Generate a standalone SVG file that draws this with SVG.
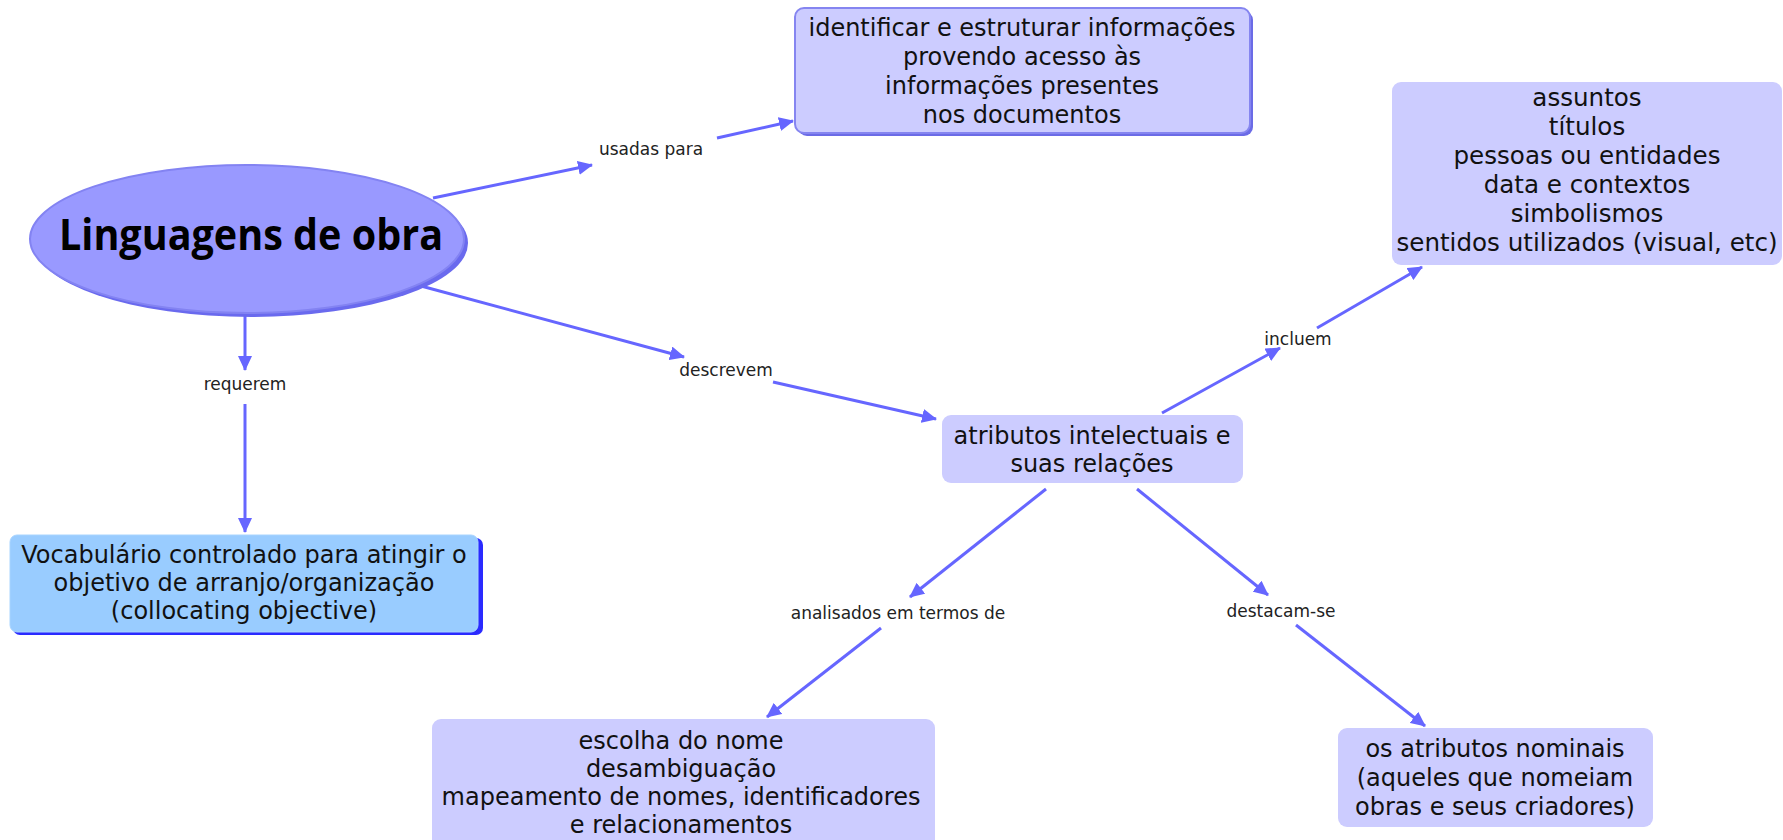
<svg xmlns="http://www.w3.org/2000/svg" width="1783" height="840" viewBox="0 0 1783 840">
<defs>
<marker id="arr" markerUnits="userSpaceOnUse" markerWidth="16" markerHeight="14" refX="14" refY="7" orient="auto">
<path d="M0,0 L15,7 L0,14 Z" fill="#6666ff"/>
</marker>
<style>
.ln{stroke:#6666ff;stroke-width:3;fill:none}
.lbl{font-family:"DejaVu Sans",Verdana,sans-serif;font-size:17px;fill:#222;text-anchor:middle}
.nt{font-family:"DejaVu Sans",Verdana,sans-serif;font-size:24px;fill:#111;text-anchor:middle}
.nt2{font-size:24.6px}
.box{fill:#ccccff}
</style>
</defs>
<rect width="1783" height="840" fill="#ffffff"/>
<g id="connectors">
<line class="ln" x1="433" y1="198" x2="592" y2="165" marker-end="url(#arr)"/>
<line class="ln" x1="717" y1="138" x2="793" y2="121" marker-end="url(#arr)"/>
<line class="ln" x1="421" y1="286" x2="684" y2="357" marker-end="url(#arr)"/>
<line class="ln" x1="773" y1="382" x2="936" y2="419" marker-end="url(#arr)"/>
<line class="ln" x1="245" y1="315" x2="245" y2="370" marker-end="url(#arr)"/>
<line class="ln" x1="245" y1="404" x2="245" y2="532" marker-end="url(#arr)"/>
<line class="ln" x1="1162" y1="413" x2="1280" y2="348" marker-end="url(#arr)"/>
<line class="ln" x1="1317" y1="328" x2="1422" y2="267" marker-end="url(#arr)"/>
<line class="ln" x1="1046" y1="489" x2="910" y2="597" marker-end="url(#arr)"/>
<line class="ln" x1="881" y1="628" x2="767" y2="717" marker-end="url(#arr)"/>
<line class="ln" x1="1137" y1="489" x2="1268" y2="595" marker-end="url(#arr)"/>
<line class="ln" x1="1296" y1="625" x2="1425" y2="726" marker-end="url(#arr)"/>
<text class="lbl" x="651" y="155">usadas para</text>
<text class="lbl" x="726" y="376">descrevem</text>
<text class="lbl" x="245" y="390">requerem</text>
<text class="lbl" x="1298" y="345">incluem</text>
<text class="lbl" x="898" y="619">analisados em termos de</text>
<text class="lbl" x="1281" y="617">destacam-se</text>
</g>
<g id="n-linguagens">
<ellipse cx="251" cy="243" rx="217" ry="74" fill="#6a6aee"/>
<ellipse cx="247" cy="239" rx="217" ry="74" fill="#9999ff" stroke="#8383f2" stroke-width="2"/>
<text x="251" y="250" font-family="'Open Sans','DejaVu Sans',sans-serif" font-weight="bold" font-size="43" fill="#000" text-anchor="middle" textLength="384" lengthAdjust="spacingAndGlyphs">Linguagens de obra</text>
</g>
<g id="n-identificar">
<rect x="798" y="11" width="455" height="125" rx="9" fill="#6b6be6"/>
<rect x="795" y="8" width="455" height="125" rx="9" class="box" stroke="#8585f0" stroke-width="2"/>
<text class="nt" x="1022" y="36">identificar e estruturar informações</text>
<text class="nt" x="1022" y="65">provendo acesso às</text>
<text class="nt" x="1022" y="94">informações presentes</text>
<text class="nt" x="1022" y="123">nos documentos</text>
</g>
<g id="n-assuntos">
<rect x="1392" y="82" width="390" height="183" rx="9" class="box"/>
<text class="nt nt2" x="1587" y="106">assuntos</text>
<text class="nt nt2" x="1587" y="135">títulos</text>
<text class="nt nt2" x="1587" y="164">pessoas ou entidades</text>
<text class="nt nt2" x="1587" y="193">data e contextos</text>
<text class="nt nt2" x="1587" y="222">simbolismos</text>
<text class="nt nt2" x="1587" y="251">sentidos utilizados (visual, etc)</text>
</g>
<g id="n-vocabulario">
<rect x="13" y="538" width="470" height="97" rx="7" fill="#2a2aff"/>
<rect x="10" y="535" width="468" height="97" rx="7" fill="#99ccff" stroke="#a8d4ff" stroke-width="1"/>
<text class="nt" x="244" y="563">Vocabulário controlado para atingir o</text>
<text class="nt" x="244" y="591">objetivo de arranjo/organização</text>
<text class="nt" x="244" y="619">(collocating objective)</text>
</g>
<g id="n-atributos">
<rect x="942" y="415" width="301" height="68" rx="9" class="box"/>
<text class="nt" x="1092" y="444">atributos intelectuais e</text>
<text class="nt" x="1092" y="472">suas relações</text>
</g>
<g id="n-escolha">
<rect x="432" y="719" width="503" height="135" rx="9" class="box"/>
<text class="nt" x="681" y="749">escolha do nome</text>
<text class="nt" x="681" y="777">desambiguação</text>
<text class="nt" x="681" y="805">mapeamento de nomes, identificadores</text>
<text class="nt" x="681" y="833">e relacionamentos</text>
</g>
<g id="n-nominais">
<rect x="1338" y="728" width="315" height="99" rx="9" class="box"/>
<text class="nt" x="1495" y="757">os atributos nominais</text>
<text class="nt" x="1495" y="786">(aqueles que nomeiam</text>
<text class="nt" x="1495" y="815">obras e seus criadores)</text>
</g>
</svg>
